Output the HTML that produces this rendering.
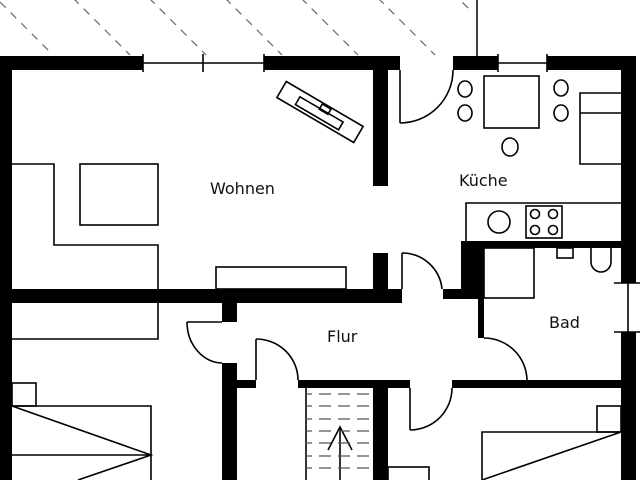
<!DOCTYPE html>
<html><head><meta charset="utf-8"><style>
html,body{margin:0;padding:0;background:#fff;}
svg{display:block;}
text{font-family:"DejaVu Sans","Liberation Sans",sans-serif;font-size:16px;fill:#111;}
</style></head><body>
<svg width="640" height="480" viewBox="0 0 640 480" xmlns="http://www.w3.org/2000/svg">
<g stroke="#666" stroke-width="1.2" stroke-dasharray="8,7" fill="none">
<line x1="0" y1="2" x2="53" y2="55"/>
<line x1="20" y1="-55" x2="130" y2="55"/>
<line x1="96" y1="-55" x2="206" y2="55"/>
<line x1="172" y1="-55" x2="282" y2="55"/>
<line x1="248" y1="-55" x2="358" y2="55"/>
<line x1="325" y1="-55" x2="435" y2="55"/>
<line x1="420" y1="-40" x2="472" y2="12"/>
</g>
<line x1="477" y1="0" x2="477" y2="56" stroke="#000" stroke-width="1.5"/>
<g fill="#000">
<rect x="0" y="56" width="143" height="14"/>
<rect x="264" y="56" width="136" height="14"/>
<rect x="453" y="56" width="45" height="14"/>
<rect x="547" y="56" width="89" height="14"/>
<rect x="0" y="56" width="12" height="424"/>
<rect x="621" y="56" width="15" height="227"/>
<rect x="621" y="332" width="15" height="148"/>
<rect x="373" y="56" width="15" height="130"/>
<rect x="373" y="253" width="15" height="36"/>
<rect x="12" y="289" width="390" height="14"/>
<rect x="443" y="289" width="41" height="10"/>
<rect x="461" y="241" width="23" height="58"/>
<rect x="461" y="241" width="161" height="7"/>
<rect x="478" y="299" width="6" height="39"/>
<rect x="222" y="303" width="15" height="19"/>
<rect x="222" y="363" width="15" height="117"/>
<rect x="237" y="380" width="19" height="8"/>
<rect x="298" y="380" width="112" height="8"/>
<rect x="452" y="380" width="170" height="8"/>
<rect x="373" y="388" width="15" height="92"/>
</g>
<g stroke="#000" stroke-width="1.6" fill="none">
<line x1="143" y1="63" x2="264" y2="63"/>
<line x1="143" y1="54" x2="143" y2="72"/><line x1="203" y1="54" x2="203" y2="72"/><line x1="264" y1="54" x2="264" y2="72"/>
<line x1="498" y1="63" x2="547" y2="63"/>
<line x1="498" y1="54" x2="498" y2="72"/><line x1="547" y1="54" x2="547" y2="72"/>
<line x1="628" y1="283" x2="628" y2="332"/>
<line x1="614" y1="283" x2="640" y2="283"/><line x1="614" y1="332" x2="640" y2="332"/>
<line x1="400" y1="70" x2="400" y2="123"/><path d="M400 123 A53 53 0 0 0 453 70"/>
<line x1="402" y1="289" x2="402" y2="253"/><path d="M402 253 A40 40 0 0 1 442 289"/>
<path d="M484 338 A43 43 0 0 1 527 380"/>
<line x1="187" y1="322" x2="222" y2="322"/><path d="M187 322 A36 41 0 0 0 222 363"/>
<line x1="256" y1="380" x2="256" y2="339"/><path d="M256 339 A42 41 0 0 1 298 380"/>
<line x1="410" y1="388" x2="410" y2="430"/><path d="M410 430 A42 42 0 0 0 452 388"/>
<g transform="rotate(30.3 320 112)">
<rect x="275.5" y="102.7" width="89" height="18.6"/>
<rect x="295" y="109" width="50" height="9"/>
<rect x="318" y="104" width="10" height="6"/>
</g>
<path d="M12 164 H54 V245 H158 V289"/>
<path d="M12 339 H158 V303"/>
<rect x="80" y="164" width="78" height="61"/>
<rect x="216" y="267" width="130" height="22"/>
<rect x="484" y="76" width="55" height="52"/>
<ellipse cx="465" cy="89" rx="7" ry="8"/><ellipse cx="465" cy="113" rx="7" ry="8"/>
<ellipse cx="561" cy="88" rx="7" ry="8"/><ellipse cx="561" cy="113" rx="7" ry="8"/>
<ellipse cx="510" cy="147" rx="8" ry="9"/>
<path d="M621 93 H580 V164 H621 M580 113 H621"/>
<path d="M466 241 V203 H621"/>
<circle cx="499" cy="222" r="11"/>
<rect x="526" y="206" width="36" height="32"/>
<circle cx="535" cy="214" r="4.5"/><circle cx="553" cy="214" r="4.5"/>
<circle cx="535" cy="230" r="4.5"/><circle cx="553" cy="230" r="4.5"/>
<rect x="484" y="248" width="50" height="50"/>
<rect x="557" y="248" width="16" height="10"/>
<path d="M591 248 V262 A10 10 0 0 0 611 262 V248"/>
<line x1="306" y1="388" x2="306" y2="480"/>
<line x1="340" y1="427" x2="340" y2="480"/>
<path d="M328 450 L340 427 L352 450"/>
<rect x="388" y="467" width="41" height="20"/>
<rect x="12" y="383" width="24" height="23"/>
<path d="M12 406 H151 V480 M12 455 H151 M12 406 L151 455 L78 480"/>
<path d="M482 480 V432 H621 M482 480 L621 432"/>
<rect x="597" y="406" width="24" height="26"/>
</g>
<g stroke="#555" stroke-width="1.3" stroke-dasharray="12,7" stroke-dashoffset="6">
<line x1="306" y1="394" x2="373" y2="394"/><line x1="306" y1="406" x2="373" y2="406"/>
<line x1="306" y1="419" x2="373" y2="419"/><line x1="306" y1="431" x2="373" y2="431"/>
<line x1="306" y1="443" x2="373" y2="443"/><line x1="306" y1="456" x2="373" y2="456"/>
<line x1="306" y1="468" x2="373" y2="468"/>
</g>
<text x="210" y="194">Wohnen</text>
<text x="459" y="186">Küche</text>
<text x="327" y="342">Flur</text>
<text x="549" y="328">Bad</text>
</svg>
</body></html>
